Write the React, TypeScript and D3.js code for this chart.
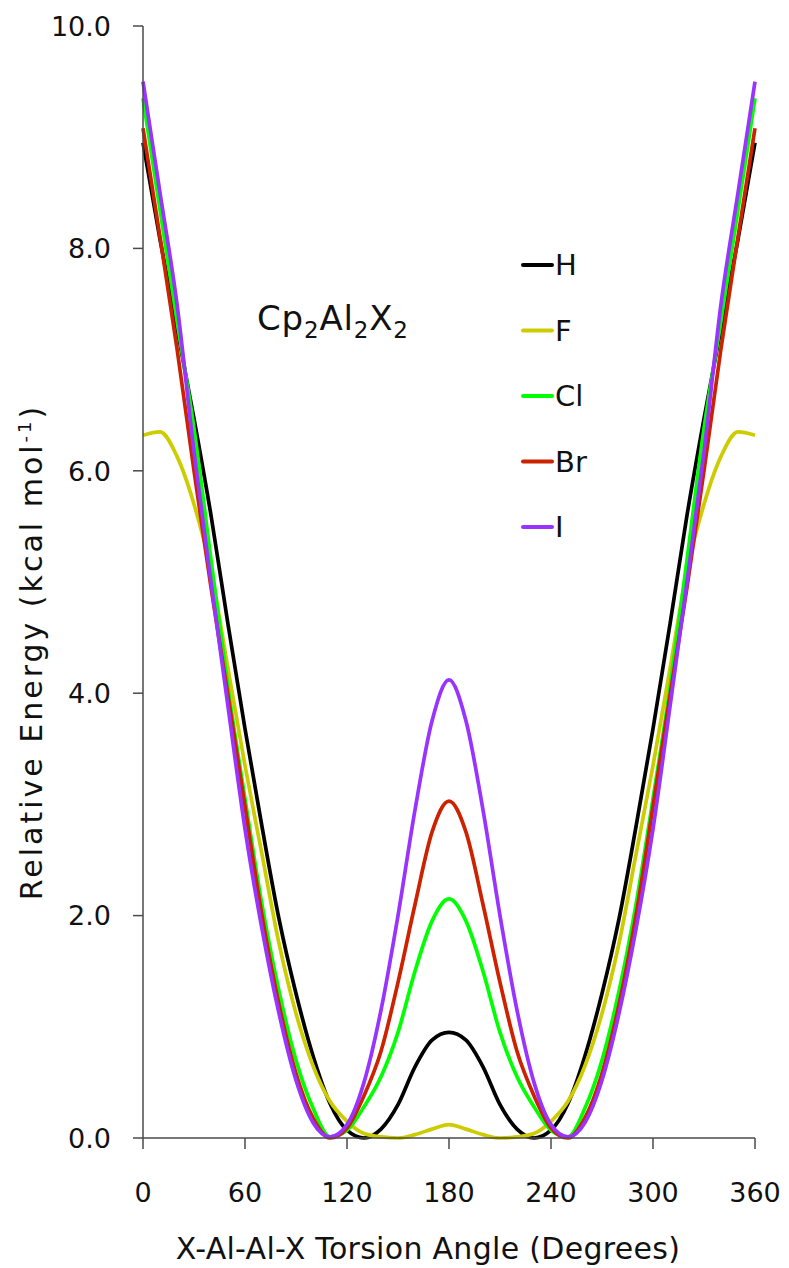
import React from "react";
import * as d3 from "d3";

const angles = [0, 10, 20, 30, 40, 50, 60, 70, 80, 90, 100, 110, 120, 130, 140, 150, 160, 170, 180,
  190, 200, 210, 220, 230, 240, 250, 260, 270, 280, 290, 300, 310, 320, 330, 340, 350, 360];

const seriesH = [8.95, 8.08, 7.28, 6.47, 5.6, 4.62, 3.68, 2.8, 1.97, 1.3, 0.74, 0.31, 0.07, 0.0, 0.08, 0.3, 0.64, 0.88, 0.95,
  0.88, 0.64, 0.3, 0.08, 0.0, 0.07, 0.31, 0.74, 1.3, 1.97, 2.8, 3.68, 4.62, 5.6, 6.47, 7.28, 8.08, 8.95];
const seriesF = [6.32, 6.35, 6.13, 5.7, 5.1, 4.22, 3.35, 2.55, 1.75, 1.12, 0.65, 0.33, 0.15, 0.04, 0.01, 0.0, 0.03, 0.08, 0.12,
  0.08, 0.03, 0.0, 0.01, 0.04, 0.15, 0.33, 0.65, 1.12, 1.75, 2.55, 3.35, 4.22, 5.1, 5.7, 6.13, 6.35, 6.32];
const seriesCl = [9.35, 8.35, 7.35, 6.38, 5.2, 4.05, 3.05, 2.1, 1.32, 0.7, 0.27, 0.01, 0.07, 0.28, 0.55, 0.95, 1.5, 1.95, 2.15,
  1.95, 1.5, 0.95, 0.55, 0.28, 0.07, 0.01, 0.27, 0.7, 1.32, 2.1, 3.05, 4.05, 5.2, 6.38, 7.35, 8.35, 9.35];
const seriesBr = [9.08, 8.1, 7.1, 6.0, 4.95, 3.98, 2.98, 2.0, 1.2, 0.58, 0.18, 0.0, 0.09, 0.38, 0.78, 1.4, 2.1, 2.75, 3.03,
  2.75, 2.1, 1.4, 0.78, 0.38, 0.09, 0.0, 0.18, 0.58, 1.2, 2.0, 2.98, 3.98, 4.95, 6.0, 7.1, 8.1, 9.08];
const seriesI = [9.5, 8.5, 7.5, 6.17, 5.0, 3.88, 2.78, 1.88, 1.12, 0.52, 0.14, 0.01, 0.12, 0.5, 1.15, 2.0, 2.95, 3.75, 4.12,
  3.75, 2.95, 2.0, 1.15, 0.5, 0.12, 0.01, 0.14, 0.52, 1.12, 1.88, 2.78, 3.88, 5.0, 6.17, 7.5, 8.5, 9.5];

const seriesNames = ["H", "F", "Cl", "Br", "I"];
const seriesColors = ["#000000", "#cccc00", "#00ff00", "#cc2200", "#9933ff"];
const seriesValues = [seriesH, seriesF, seriesCl, seriesBr, seriesI];

const xTicks = [0, 60, 120, 180, 240, 300, 360];
const yTicks = [0, 2, 4, 6, 8, 10];

const W = 789;
const H = 1268;
const FONT = "'DejaVu Sans', sans-serif";

export default function App() {
  const x = d3.scaleLinear().domain([0, 360]).range([143, 755]);
  const y = d3.scaleLinear().domain([0, 10]).range([1138, 26]);
  const line = d3
    .line<number>()
    .x((_, i) => x(angles[i]))
    .y((d) => y(d))
    .curve(d3.curveMonotoneX);
  const axisColor = "#4a4a4a";

  return (
    <svg width={W} height={H} style={{ position: "absolute", left: 0, top: 0, background: "#fff" }}>
      <rect x={0} y={0} width={W} height={H} fill="#fff" />
      {seriesValues.map((vals, si) => (
        <path key={si} d={line(vals) || ""} fill="none" stroke={seriesColors[si]} strokeWidth={3.7} strokeLinejoin="round" />
      ))}
      <line x1={x(0)} x2={x(0)} y1={y(10)} y2={y(0)} stroke={axisColor} strokeWidth={1.5} />
      {yTicks.map((t) => (
        <g key={t}>
          <line x1={x(0) - 10} x2={x(0)} y1={y(t)} y2={y(t)} stroke={axisColor} strokeWidth={1.5} />
          <text x={111} y={y(t)} dy="0.36em" textAnchor="end" fontFamily={FONT} fontSize={27} fill="#111">
            {t.toFixed(1)}
          </text>
        </g>
      ))}
      <line x1={x(0)} x2={x(360)} y1={y(0)} y2={y(0)} stroke={axisColor} strokeWidth={1.5} />
      {xTicks.map((t) => (
        <g key={t}>
          <line x1={x(t)} x2={x(t)} y1={y(0)} y2={y(0) + 11} stroke={axisColor} strokeWidth={1.5} />
          <text x={x(t)} y={1202} textAnchor="middle" fontFamily={FONT} fontSize={27} fill="#111">
            {t}
          </text>
        </g>
      ))}
      <text x={428} y={1259} textAnchor="middle" fontFamily={FONT} fontSize={30} letterSpacing={0.3} fill="#111">
        X-Al-Al-X Torsion Angle (Degrees)
      </text>
      <text
        transform={`translate(42, 652) rotate(-90)`}
        textAnchor="middle"
        fontFamily={FONT}
        fontSize={30}
        letterSpacing={3}
        fill="#111"
      >
        Relative Energy (kcal mol
        <tspan dy={-11} fontSize={18}>-1</tspan>
        <tspan dy={11}>)</tspan>
      </text>
      <text x={257} y={330} fontFamily={FONT} fontSize={34} letterSpacing={0.8} fill="#111">
        Cp<tspan dy={8} fontSize={23}>2</tspan>
        <tspan dy={-8}>Al</tspan>
        <tspan dy={8} fontSize={23}>2</tspan>
        <tspan dy={-8}>X</tspan>
        <tspan dy={8} fontSize={23}>2</tspan>
      </text>
      {seriesNames.map((n, i) => {
        const ly = 265 + i * 65.5;
        return (
          <g key={n}>
            <line x1={523} x2={552} y1={ly} y2={ly} stroke={seriesColors[i]} strokeWidth={4} strokeLinecap="round" />
            <text x={555} y={ly} dy="0.36em" fontFamily={FONT} fontSize={29} fill="#111">
              {n}
            </text>
          </g>
        );
      })}
    </svg>
  );
}
